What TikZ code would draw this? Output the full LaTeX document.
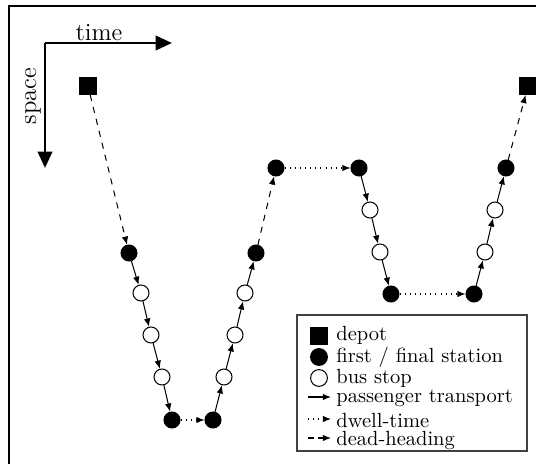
\documentclass[tikz,border=0pt]{standalone}
\usetikzlibrary{arrows.meta}
\begin{document}
\begin{tikzpicture}[x=0.4878pt,y=-0.4878pt,
  depot/.style={rectangle,fill=black,minimum size=8.3pt,inner sep=0pt},
  term/.style={circle,draw=black,fill=black,minimum size=7.8pt,inner sep=0pt,line width=0.5pt},
  stop/.style={circle,draw=black,fill=white,minimum size=7.8pt,inner sep=0pt,line width=0.5pt},
  pt/.style={-{Latex[length=4pt,width=3.2pt]},line width=0.5pt},
  dw/.style={pt,dotted},
  dh/.style={pt,dashed},
  axis/.style={line width=1.4pt,-{Triangle[length=8pt,width=7pt]}},
  axlbl/.style={inner sep=0pt,font=\large},
  lbl/.style={inner sep=0pt,anchor=base west}]
\useasboundingbox (0,0) rectangle (536,464);
% frame
\draw[line width=0.8pt] (9,490) -- (9,6) -- (560,6);
% axes
\coordinate (o) at (45,43);
\coordinate (tx) at (172,43);
\coordinate (sy) at (45,168);
\draw[axis] (o) -- (tx);
\draw[axis] (o) -- (sy);
\node[axlbl] (time) at (99,33) {time};
\node[axlbl,rotate=90] (space) at (33,96) {space};
% nodes
\node[depot] (d1) at (88,86) {};
\node[term] (a1) at (129,253) {};
\node[stop] (a2) at (141,293) {};
\node[stop] (a3) at (151,335) {};
\node[stop] (a4) at (162,377) {};
\node[term] (a5) at (172,420) {};
\node[term] (b1) at (213,420) {};
\node[stop] (b2) at (224,377) {};
\node[stop] (b3) at (235,335) {};
\node[stop] (b4) at (245,293) {};
\node[term] (b5) at (256,253) {};
\node[term] (c1) at (276,168) {};
\node[term] (c2) at (359,168) {};
\node[stop] (c3) at (370,210) {};
\node[stop] (c4) at (380,252) {};
\node[term] (c5) at (391,294) {};
\node[term] (e1) at (474,294) {};
\node[stop] (e2) at (485,252) {};
\node[stop] (e3) at (495,210) {};
\node[term] (e4) at (506,168) {};
\node[depot] (d2) at (528,86) {};
% connections
\draw[dh] (d1) -- (a1);
\draw[pt] (a1) -- (a2);
\draw[pt] (a2) -- (a3);
\draw[pt] (a3) -- (a4);
\draw[pt] (a4) -- (a5);
\draw[dw] (a5) -- (b1);
\draw[pt] (b1) -- (b2);
\draw[pt] (b2) -- (b3);
\draw[pt] (b3) -- (b4);
\draw[pt] (b4) -- (b5);
\draw[dh] (b5) -- (c1);
\draw[dw] (c1) -- (c2);
\draw[pt] (c2) -- (c3);
\draw[pt] (c3) -- (c4);
\draw[pt] (c4) -- (c5);
\draw[dw] (c5) -- (e1);
\draw[pt] (e1) -- (e2);
\draw[pt] (e2) -- (e3);
\draw[pt] (e3) -- (e4);
\draw[dh] (e4) -- (d2);
% legend
\node[draw=black!75,line width=0.6pt,minimum width=230*0.4878pt,minimum height=136*0.4878pt,inner sep=0pt] (leg) at (412,383) {};
\node[depot,minimum size=8.4pt] (ls1) at (319,336) {};
\node[term,minimum size=8.2pt] (ls2) at (319,357) {};
\node[stop,minimum size=8.2pt] (ls3) at (319,378) {};
\coordinate (la1) at (308,397);
\coordinate (lb1) at (331,397);
\coordinate (la2) at (308,419);
\coordinate (lb2) at (331,419);
\coordinate (la3) at (308,438);
\coordinate (lb3) at (331,438);
\draw[pt] (la1) -- (lb1);
\draw[dw] (la2) -- (lb2);
\draw[dh,dash pattern=on 3pt off 2pt] (la3) -- (lb3);
\node[lbl] (t1) at (336,340) {depot};
\node[lbl] (t2) at (336,362) {first / final station};
\node[lbl] (t3) at (336,383) {bus stop};
\node[lbl] (t4) at (336,402) {passenger transport};
\node[lbl] (t5) at (336,427) {dwell-time};
\node[lbl] (t6) at (336,445) {dead-heading};
\end{tikzpicture}
\end{document}
